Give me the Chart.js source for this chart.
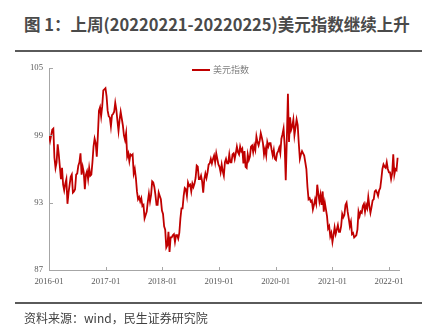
<!DOCTYPE html>
<html>
<head>
<meta charset="utf-8">
<script src="https://cdn.jsdelivr.net/npm/chart.js@4/dist/chart.umd.min.js"></script>
<style>
  html, body { margin: 0; padding: 0; background: #fff; width: 436px; height: 331px; overflow: hidden; }
  #wrap { position: relative; width: 436px; height: 331px; }
  #title { position: absolute; left: 24px; top: 14px; font: bold 16.5px "Noto Sans CJK SC", sans-serif; color: #4a4a4a; white-space: nowrap; line-height: 20px; }
  .rule { position: absolute; left: 15px; width: 407px; height: 2px; background: #5a5a5a; }
  #source { position: absolute; left: 24px; top: 310px; font: 12px "Noto Sans CJK SC", sans-serif; color: #404040; line-height: 16px; white-space: nowrap; }
  #legend { position: absolute; left: 192px; top: 64px; font: 9px "Noto Sans CJK SC", sans-serif; color: #7f7f7f; line-height: 12px; display: flex; align-items: center; white-space: nowrap; }
  #legend i { display: inline-block; width: 18px; height: 2px; margin-right: 3px; }
  canvas { position: absolute; left: 0; top: 0; }
</style>
</head>
<body>
<div id="wrap">
  <div id="title">图 1：上周(20220221-20220225)美元指数继续上升</div>
  <div class="rule" style="top:50px"></div>
  <canvas id="c" width="436" height="331"></canvas>
  <div id="legend"><i id="legendLine"></i><span id="legendText"></span></div>
  <div class="rule" style="top:302px"></div>
  <div id="source">资料来源：wind，民生证券研究院</div>
</div>
<script>
// US dollar index, weekly (Friday) readings, grouped by year
const seriesName = '美元指数';
const firstWeek = '2016-01-01';
const dxy2016 = [99.0, 98.5, 99.0, 99.5, 99.6, 97.0, 96.1, 96.6, 98.2, 97.3, 96.2, 95.1, 96.1, 94.6, 94.1, 94.7, 95.1, 92.9, 93.9, 94.6, 95.3, 95.5, 93.9, 94.0, 94.2, 95.5, 95.6, 96.3, 96.6, 97.4, 95.5, 96.2, 95.7, 94.2, 95.5, 95.8, 95.1, 96.1, 95.4, 95.5, 96.6, 98.0, 98.7, 98.3, 97.1, 99.0, 101.2, 101.5, 100.7, 101.6, 103.0, 103.1, 103.2];
const dxy2017 = [102.5, 101.2, 100.7, 100.6, 99.8, 100.8, 100.9, 101.1, 101.9, 101.3, 100.3, 99.4, 100.4, 101.1, 100.5, 99.9, 99.0, 98.6, 99.2, 97.1, 97.4, 96.7, 97.3, 97.2, 97.3, 95.6, 96.0, 95.2, 94.0, 93.3, 93.5, 93.1, 93.4, 92.7, 92.8, 91.6, 91.9, 92.2, 93.1, 93.8, 93.1, 93.7, 94.9, 94.8, 94.4, 93.7, 92.8, 92.8, 93.9, 93.6, 93.3, 92.3];
const dxy2018 = [92.0, 90.9, 90.6, 89.0, 89.2, 90.4, 88.6, 89.9, 89.9, 90.1, 90.2, 89.5, 90.1, 90.1, 89.8, 90.3, 91.6, 92.5, 92.5, 93.6, 94.3, 94.2, 93.6, 94.8, 94.5, 94.6, 94.0, 94.7, 94.4, 94.7, 95.2, 96.3, 96.2, 95.1, 95.1, 95.4, 94.9, 93.9, 95.1, 95.6, 95.2, 95.7, 96.4, 96.5, 96.9, 96.5, 96.9, 97.2, 96.6, 97.4, 96.9, 96.4];
const dxy2019 = [96.2, 95.7, 96.4, 95.8, 95.4, 96.6, 96.9, 96.5, 96.5, 97.3, 96.6, 96.6, 97.3, 97.4, 96.9, 97.4, 98.0, 97.5, 97.3, 98.0, 97.6, 97.8, 96.5, 97.6, 96.2, 96.1, 97.3, 96.8, 97.1, 98.0, 98.1, 97.5, 98.1, 97.7, 98.9, 98.4, 98.1, 98.5, 99.2, 98.8, 98.3, 97.3, 97.8, 97.2, 98.4, 98.0, 98.3, 98.3, 97.7, 97.2, 97.7, 96.9];
const dxy2020 = [96.8, 97.4, 97.6, 97.9, 97.4, 98.7, 99.1, 99.6, 98.1, 95.0, 98.7, 102.7, 98.4, 100.6, 99.5, 99.8, 100.4, 99.0, 99.7, 100.4, 99.9, 98.3, 96.9, 97.3, 97.6, 97.4, 97.2, 96.6, 96.0, 94.4, 93.3, 93.4, 93.1, 93.2, 92.4, 92.8, 93.3, 92.9, 94.6, 93.8, 93.1, 93.7, 92.8, 94.0, 92.2, 93.0, 92.4, 91.8, 90.7, 90.9, 90.0, 90.3];
const dxy2021 = [89.5, 90.1, 90.8, 90.2, 90.6, 91.0, 90.4, 90.4, 90.9, 92.0, 91.7, 91.9, 92.8, 93.0, 92.2, 91.6, 90.9, 91.3, 90.2, 90.3, 89.9, 90.0, 90.1, 90.6, 92.2, 91.8, 92.2, 92.1, 92.7, 92.9, 92.2, 92.8, 92.5, 93.5, 92.7, 92.1, 92.6, 93.2, 93.3, 94.0, 94.1, 93.9, 93.6, 94.1, 94.3, 95.1, 96.0, 96.4, 96.2, 96.1, 96.6, 96.0, 95.7];
const dxy2022 = [95.7, 95.1, 95.6, 97.3, 95.5, 96.0, 95.9, 97.0];

const yearTickLabels = ['2016-01', '2017-01', '2018-01', '2019-01', '2020-01', '2021-01', '2022-01'];
const yTickValues = [87, 93, 99, 105];

const DAY = 86400000;
const toTime = s => { const [y, m, d] = s.split('-').map(Number); return Date.UTC(y, m - 1, d); };

const dxy = [].concat(dxy2016, dxy2017, dxy2018, dxy2019, dxy2020, dxy2021, dxy2022);
const weekDates = dxy.map((_, i) => toTime(firstWeek) + i * 7 * DAY);
const points = dxy.map((v, i) => ({ x: weekDates[i], y: v }));
const yearTicks = yearTickLabels.map(s => toTime(s + '-01'));

const axisColor = '#a6a6a6';
const tickFont = { family: '"Liberation Serif", "Times New Roman", serif', size: 8.7 };

// short tick marks drawn on the inner side of both axes
const innerTicks = {
  id: 'innerTicks',
  afterDraw(chart) {
    const { ctx, chartArea: a, scales: { x, y } } = chart;
    ctx.save();
    ctx.strokeStyle = axisColor;
    ctx.lineWidth = 1;
    ctx.beginPath();
    y.ticks.forEach(t => {
      const py = Math.round(y.getPixelForValue(t.value)) + 0.5;
      ctx.moveTo(a.left, py); ctx.lineTo(a.left + 4, py);
    });
    x.ticks.forEach(t => {
      const px = Math.round(x.getPixelForValue(t.value)) + 0.5;
      ctx.moveTo(px, a.bottom); ctx.lineTo(px, a.bottom - 3);
    });
    ctx.stroke();
    ctx.restore();
  }
};

const lineColor = '#c00000';
document.getElementById('legendText').textContent = seriesName;
document.getElementById('legendLine').style.background = lineColor;

new Chart(document.getElementById('c'), {
  type: 'line',
  data: {
    datasets: [{
      label: seriesName,
      data: points,
      borderColor: lineColor,
      borderWidth: 1.8,
      pointRadius: 0,
      tension: 0,
      fill: false
    }]
  },
  options: {
    responsive: false,
    animation: false,
    devicePixelRatio: 1,
    layout: { padding: { left: 0, right: 37, top: 68, bottom: 0 } },
    plugins: { legend: { display: false }, tooltip: { enabled: false } },
    scales: {
      x: {
        type: 'linear',
        min: toTime('2016-01-01'),
        max: toTime('2022-03-06'),
        afterBuildTicks(s) { s.ticks = yearTicks.map(v => ({ value: v })); },
        afterFit(s) { s.height = 61; },
        grid: { display: false, drawTicks: false },
        border: { display: true, color: axisColor, width: 1 },
        ticks: {
          autoSkip: false, maxRotation: 0, padding: 6, color: '#595959', font: tickFont,
          callback(v) { const i = yearTicks.indexOf(v); return i >= 0 ? yearTickLabels[i] : ''; }
        }
      },
      y: {
        min: 87,
        max: 105,
        afterBuildTicks(s) { s.ticks = yTickValues.map(v => ({ value: v })); },
        afterFit(s) { s.width = 49; },
        grid: { display: false, drawTicks: false },
        border: { display: true, color: axisColor, width: 1 },
        ticks: { padding: 6, color: '#595959', font: tickFont }
      }
    }
  },
  plugins: [innerTicks]
});
</script>
</body>
</html>
